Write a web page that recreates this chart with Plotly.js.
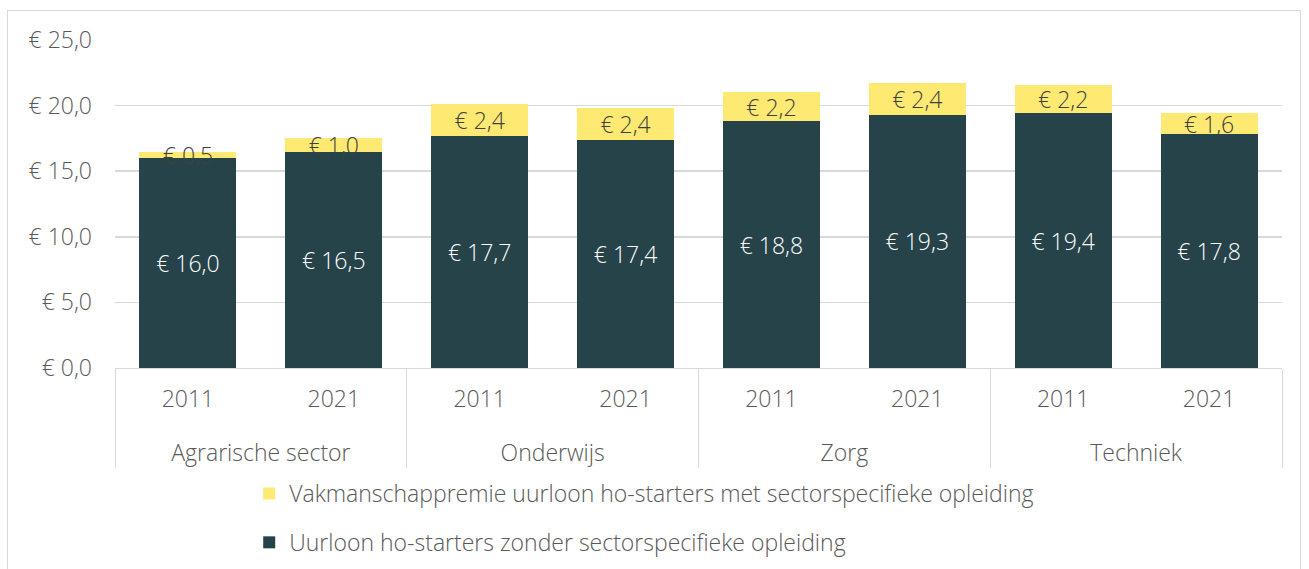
<!DOCTYPE html>
<html>
<head>
<meta charset="utf-8">
<script src="https://cdn.plot.ly/plotly-3.0.1.min.js"></script>
<style>
html,body{margin:0;padding:0;background:#fff;}
#wrap{position:relative;width:1309px;height:569px;}
#chart{width:1309px;height:569px;}
#frame{position:absolute;left:7px;top:10px;width:1292px;height:570px;border:1px solid #d9d9d9;pointer-events:none;}
</style>
</head>
<body>
<div id="wrap"><div id="chart"></div><div id="frame"></div></div>
<script>
const sectors = ["Agrarische sector","Agrarische sector","Onderwijs","Onderwijs","Zorg","Zorg","Techniek","Techniek"];
const years = ["2011","2021","2011","2021","2011","2021","2011","2021"];
const baseWage = [16.0,16.5,17.7,17.4,18.8,19.3,19.4,17.8];
const premium = [0.5,1.0,2.4,2.4,2.2,2.4,2.2,1.6];
const nameBase = "Uurloon ho-starters zonder sectorspecifieke opleiding";
const namePremium = "Vakmanschappremie uurloon ho-starters met sectorspecifieke opleiding";

const fmt = v => "€ " + v.toFixed(1).replace(".", ",");
const sectorLabels = sectors.map(s => "<br>" + s);
const FONT = "'Open Sans', Lato, sans-serif";
const GREY = "#595959";
const FS = 23;

const traces = [
  {
    type: "bar", name: nameBase, legendgroup: "b", legendrank: 2,
    x: [sectorLabels, years], y: baseWage,
    text: baseWage.map(fmt), textposition: "inside", insidetextanchor: "middle",
    textangle: 0, constraintext: "none",
    textfont: {family: FONT, size: FS, color: "#ffffff", weight: 300},
    marker: {color: "#26434A"}, hoverinfo: "none"
  },
  {
    type: "bar", name: namePremium, legendgroup: "a", legendrank: 1,
    x: [sectorLabels, years], y: premium,
    text: premium.map(fmt), textposition: "inside", insidetextanchor: "middle",
    textangle: 0, constraintext: "none",
    textfont: {family: FONT, size: FS, color: "#404040", weight: 300},
    marker: {color: "#FEE972"}, hoverinfo: "none"
  }
];

const layout = {
  width: 1309, height: 569,
  margin: {l: 115, r: 27, t: 40, b: 201, autoexpand: false},
  barmode: "stack", bargap: 0.335,
  separators: ",.",
  paper_bgcolor: "#ffffff", plot_bgcolor: "#ffffff",
  font: {family: FONT, size: FS, color: GREY, weight: 300},
  showlegend: true,
  legend: {
    orientation: "v", traceorder: "grouped", tracegroupgap: 16,
    xref: "paper", x: 0.115, xanchor: "left",
    yref: "container", y: 0.1705, yanchor: "top",
    font: {family: FONT, size: FS, color: GREY, weight: 300},
    itemwidth: 30, bgcolor: "rgba(0,0,0,0)"
  },
  xaxis: {
    type: "multicategory", automargin: false,
    showline: true, linecolor: "#d9d9d9", linewidth: 1,
    showdividers: true, dividercolor: "#d9d9d9", dividerwidth: 1,
    ticks: "", ticklabelstandoff: 10,
    tickfont: {family: FONT, size: FS, color: GREY, weight: 300},
    showgrid: false, zeroline: false
  },
  yaxis: {
    range: [0, 25], dtick: 5, tickformat: ".1f", tickprefix: "€ ",
    automargin: false,
    showgrid: true, gridcolor: "#d9d9d9", gridwidth: 1.5,
    zeroline: false, showline: false, ticks: "",
    ticklabelstandoff: 22,
    tickfont: {family: FONT, size: FS, color: GREY, weight: 300}
  }
};

Plotly.newPlot("chart", traces, layout, {displayModeBar: false, staticPlot: true});
</script>
</body>
</html>
